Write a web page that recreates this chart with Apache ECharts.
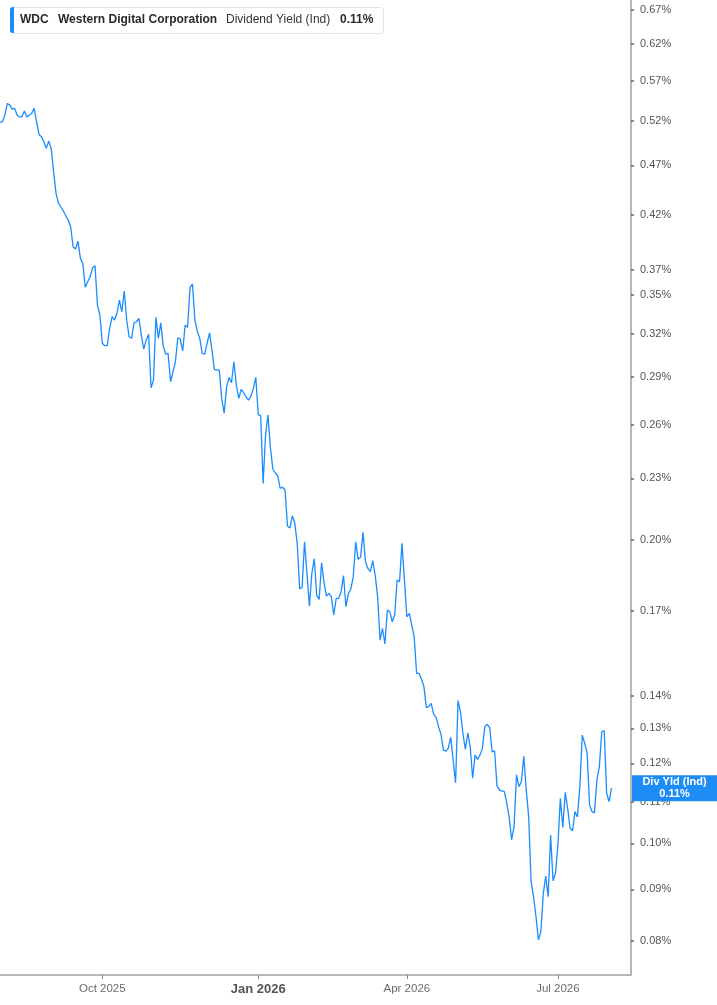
<!DOCTYPE html>
<html>
<head>
<meta charset="utf-8">
<title>WDC Dividend Yield (Ind)</title>
<script src="https://cdn.jsdelivr.net/npm/echarts@6/dist/echarts.min.js"></script>
<style>
  html, body { margin: 0; padding: 0; background: #fff; }
  #main { width: 717px; height: 1005px; }
</style>
</head>
<body>
<div id="main"></div>
<script>
// trading calendar (one slot per session, a few empty slots after the last one)
const startDate = '2025-08-01'
const slotCount = 260
const holidays = [
  '2025-09-01', '2025-11-27', '2025-12-25', '2026-01-01', '2026-01-19',
  '2026-02-16', '2026-04-03', '2026-05-25', '2026-06-19', '2026-07-03',
]
const monthNames = ['Jan', 'Feb', 'Mar', 'Apr', 'May', 'Jun', 'Jul', 'Aug', 'Sep', 'Oct', 'Nov', 'Dec']

// dividend yield (%) per session
const divYield = [
  0.5185, 0.5192, 0.5272, 0.5414, 0.5393, 0.5344, 0.5353, 0.5272, 0.5251, 0.5251,
  0.5320, 0.5248, 0.5272, 0.5292, 0.5353, 0.5192, 0.5044, 0.5017, 0.4960, 0.4886,
  0.4968, 0.4886, 0.4632, 0.4409, 0.4310, 0.4274, 0.4235, 0.4189, 0.4149, 0.4086,
  0.3903, 0.3883, 0.3954, 0.3801, 0.3758, 0.3558, 0.3604, 0.3645, 0.3720, 0.3737,
  0.3417, 0.3340, 0.3131, 0.3114, 0.3114, 0.3240, 0.3327, 0.3302, 0.3353, 0.3456,
  0.3365, 0.3528, 0.3302, 0.3178, 0.3167, 0.3281, 0.3289, 0.3314, 0.3191, 0.3090,
  0.3154, 0.3196, 0.2829, 0.2879, 0.3322, 0.3167, 0.3281, 0.3111, 0.3055, 0.3060,
  0.2868, 0.2934, 0.3002, 0.3171, 0.3162, 0.3078, 0.3264, 0.3247, 0.3558, 0.3585,
  0.3302, 0.3215, 0.3167, 0.3060, 0.3055, 0.3131, 0.3207, 0.3083, 0.2950, 0.2945,
  0.2945, 0.2761, 0.2669, 0.2835, 0.2897, 0.2861, 0.3002, 0.2846, 0.2761, 0.2818,
  0.2797, 0.2771, 0.2750, 0.2776, 0.2825, 0.2897, 0.2661, 0.2655, 0.2274, 0.2540,
  0.2658, 0.2465, 0.2350, 0.2330, 0.2313, 0.2249, 0.2254, 0.2240, 0.2063, 0.2054,
  0.2111, 0.2076, 0.1983, 0.1787, 0.1794, 0.1990, 0.1852, 0.1719, 0.1852, 0.1915,
  0.1761, 0.1745, 0.1897, 0.1813, 0.1758, 0.1769, 0.1756, 0.1684, 0.1749, 0.1749,
  0.1776, 0.1842, 0.1716, 0.1769, 0.1786, 0.1838, 0.1990, 0.1912, 0.1921, 0.2034,
  0.1902, 0.1873, 0.1859, 0.1906, 0.1845, 0.1756, 0.1590, 0.1633, 0.1576, 0.1703,
  0.1697, 0.1658, 0.1684, 0.1824, 0.1817, 0.1983, 0.1824, 0.1677, 0.1690, 0.1646,
  0.1602, 0.1474, 0.1474, 0.1454, 0.1430, 0.1363, 0.1366, 0.1376, 0.1342, 0.1333,
  0.1305, 0.1283, 0.1237, 0.1234, 0.1242, 0.1274, 0.1209, 0.1148, 0.1385, 0.1350,
  0.1285, 0.1239, 0.1287, 0.1247, 0.1160, 0.1223, 0.1211, 0.1223, 0.1242, 0.1305,
  0.1312, 0.1302, 0.1232, 0.1235, 0.1140, 0.1129, 0.1127, 0.1125, 0.1096, 0.1061,
  0.1008, 0.1039, 0.1169, 0.1138, 0.1151, 0.1220, 0.1129, 0.1062, 0.0916, 0.0885,
  0.0846, 0.0802, 0.0817, 0.0892, 0.0928, 0.0885, 0.1019, 0.0918, 0.0934, 0.0996,
  0.1108, 0.1037, 0.1123, 0.1083, 0.1035, 0.1029, 0.1075, 0.1062, 0.1138, 0.1280,
  0.1256, 0.1228, 0.1091, 0.1075, 0.1072, 0.1155, 0.1191, 0.1290, 0.1293, 0.1121,
  0.1100, 0.1134,
]

// right axis tick values (%)
const yTicks = [
  0.08, 0.09, 0.10, 0.11, 0.12, 0.13, 0.14, 0.17, 0.20, 0.23, 0.26,
  0.29, 0.32, 0.35, 0.37, 0.42, 0.47, 0.52, 0.57, 0.62, 0.67,
]
const yMin = 0.07403
const yMax = 0.6856

const ticker = 'WDC'
const companyName = 'Western Digital Corporation'
const metricName = 'Dividend Yield (Ind)'
const tagName = 'Div Yld (Ind)'

const lineColor = '#1a8cff'
const fontFamily = "'Liberation Sans', Arial, sans-serif"

function tradingDays(start, n, skip) {
  const out = []
  const d = new Date(start + 'T00:00:00Z')
  while (out.length < n) {
    const dow = d.getUTCDay()
    const s = d.toISOString().slice(0, 10)
    if (dow !== 0 && dow !== 6 && skip.indexOf(s) < 0) out.push(s)
    d.setUTCDate(d.getUTCDate() + 1)
  }
  return out
}

const dates = tradingDays(startDate, slotCount, holidays)

// first session of Jan / Apr / Jul / Oct
function isQuarterStart(idx) {
  if (idx === 0) return false
  const m = dates[idx].slice(5, 7)
  const prev = dates[idx - 1].slice(5, 7)
  return m !== prev && ['01', '04', '07', '10'].indexOf(m) >= 0
}

const lastValue = divYield[divYield.length - 1]
const fmtPct = (v) => v.toFixed(2) + '%'

const chart = echarts.init(document.getElementById('main'), null, { renderer: 'canvas' })

chart.setOption({
  animation: false,
  grid: { left: -1, right: 86, top: 0, bottom: 30, containLabel: false },
  xAxis: {
    type: 'category',
    data: dates,
    boundaryGap: false,
    axisLine: { show: true, lineStyle: { color: '#b7b7b7', width: 2 } },
    axisTick: {
      show: true,
      length: 4,
      interval: (idx) => isQuarterStart(idx),
      lineStyle: { color: '#8a8a8a', width: 1 },
    },
    axisLabel: {
      interval: (idx) => isQuarterStart(idx),
      margin: 8,
      color: '#6b6b6b',
      fontFamily: fontFamily,
      fontSize: 11.5,
      formatter: (val) => {
        const name = monthNames[+val.slice(5, 7) - 1] + ' ' + val.slice(0, 4)
        return val.slice(5, 7) === '01' ? '{b|' + name + '}' : name
      },
      rich: {
        b: { fontWeight: 'bold', fontSize: 13, color: '#555', fontFamily: fontFamily },
      },
    },
    splitLine: { show: false },
  },
  yAxis: {
    type: 'log',
    logBase: 10,
    position: 'right',
    min: yMin,
    max: yMax,
    axisLine: { show: true, lineStyle: { color: '#b7b7b7', width: 2 } },
    axisTick: {
      show: true,
      length: 3,
      customValues: yTicks,
      lineStyle: { color: '#666', width: 1.5 },
    },
    axisLabel: {
      customValues: yTicks,
      margin: 9,
      padding: [2, 0, 0, 0],
      color: '#555',
      fontFamily: fontFamily,
      fontSize: 11,
      formatter: (v) => fmtPct(v),
    },
    splitLine: { show: false },
  },
  series: [
    {
      type: 'line',
      data: divYield,
      showSymbol: false,
      symbol: 'none',
      lineStyle: { color: lineColor, width: 1.3 },
      clip: true,
    },
  ],
})

// header box + last value tag on the axis
const tagY = chart.convertToPixel({ yAxisIndex: 0 }, lastValue)
const tagX = chart.convertToPixel({ xAxisIndex: 0 }, dates[slotCount - 1])

chart.setOption({
  graphic: [
    {
      type: 'rect',
      left: 10, top: 7,
      shape: { width: 373, height: 26, r: 3 },
      style: { fill: '#fff', stroke: '#e4e4e4', lineWidth: 1 },
      z: 10,
    },
    {
      type: 'rect',
      left: 10, top: 7,
      shape: { width: 4, height: 26, r: [3, 0, 0, 3] },
      style: { fill: lineColor },
      z: 11,
    },
    {
      type: 'text', left: 20, top: 14, z: 12,
      style: { text: ticker, fill: '#2b2b2b', font: 'bold 12px ' + fontFamily },
    },
    {
      type: 'text', left: 58, top: 14, z: 12,
      style: { text: companyName, fill: '#2b2b2b', font: 'bold 12px ' + fontFamily },
    },
    {
      type: 'text', left: 226, top: 14, z: 12,
      style: { text: metricName, fill: '#333', font: '12px ' + fontFamily },
    },
    {
      type: 'text', left: 340, top: 14, z: 12,
      style: { text: fmtPct(lastValue), fill: '#2b2b2b', font: 'bold 12px ' + fontFamily },
    },
    {
      type: 'rect',
      x: tagX + 1, y: tagY - 13,
      shape: { width: 717 - tagX, height: 26 },
      style: { fill: '#1e8cf5' },
      z: 20,
    },
    {
      type: 'text',
      x: tagX + 1 + (717 - tagX - 1) / 2, y: tagY - 6.5,
      style: {
        text: tagName, fill: '#fff', font: 'bold 11px ' + fontFamily,
        align: 'center', verticalAlign: 'middle',
      },
      z: 21,
    },
    {
      type: 'text',
      x: tagX + 1 + (717 - tagX - 1) / 2, y: tagY + 6,
      style: {
        text: fmtPct(lastValue), fill: '#fff', font: 'bold 11px ' + fontFamily,
        align: 'center', verticalAlign: 'middle',
      },
      z: 21,
    },
  ],
})
</script>
</body>
</html>
